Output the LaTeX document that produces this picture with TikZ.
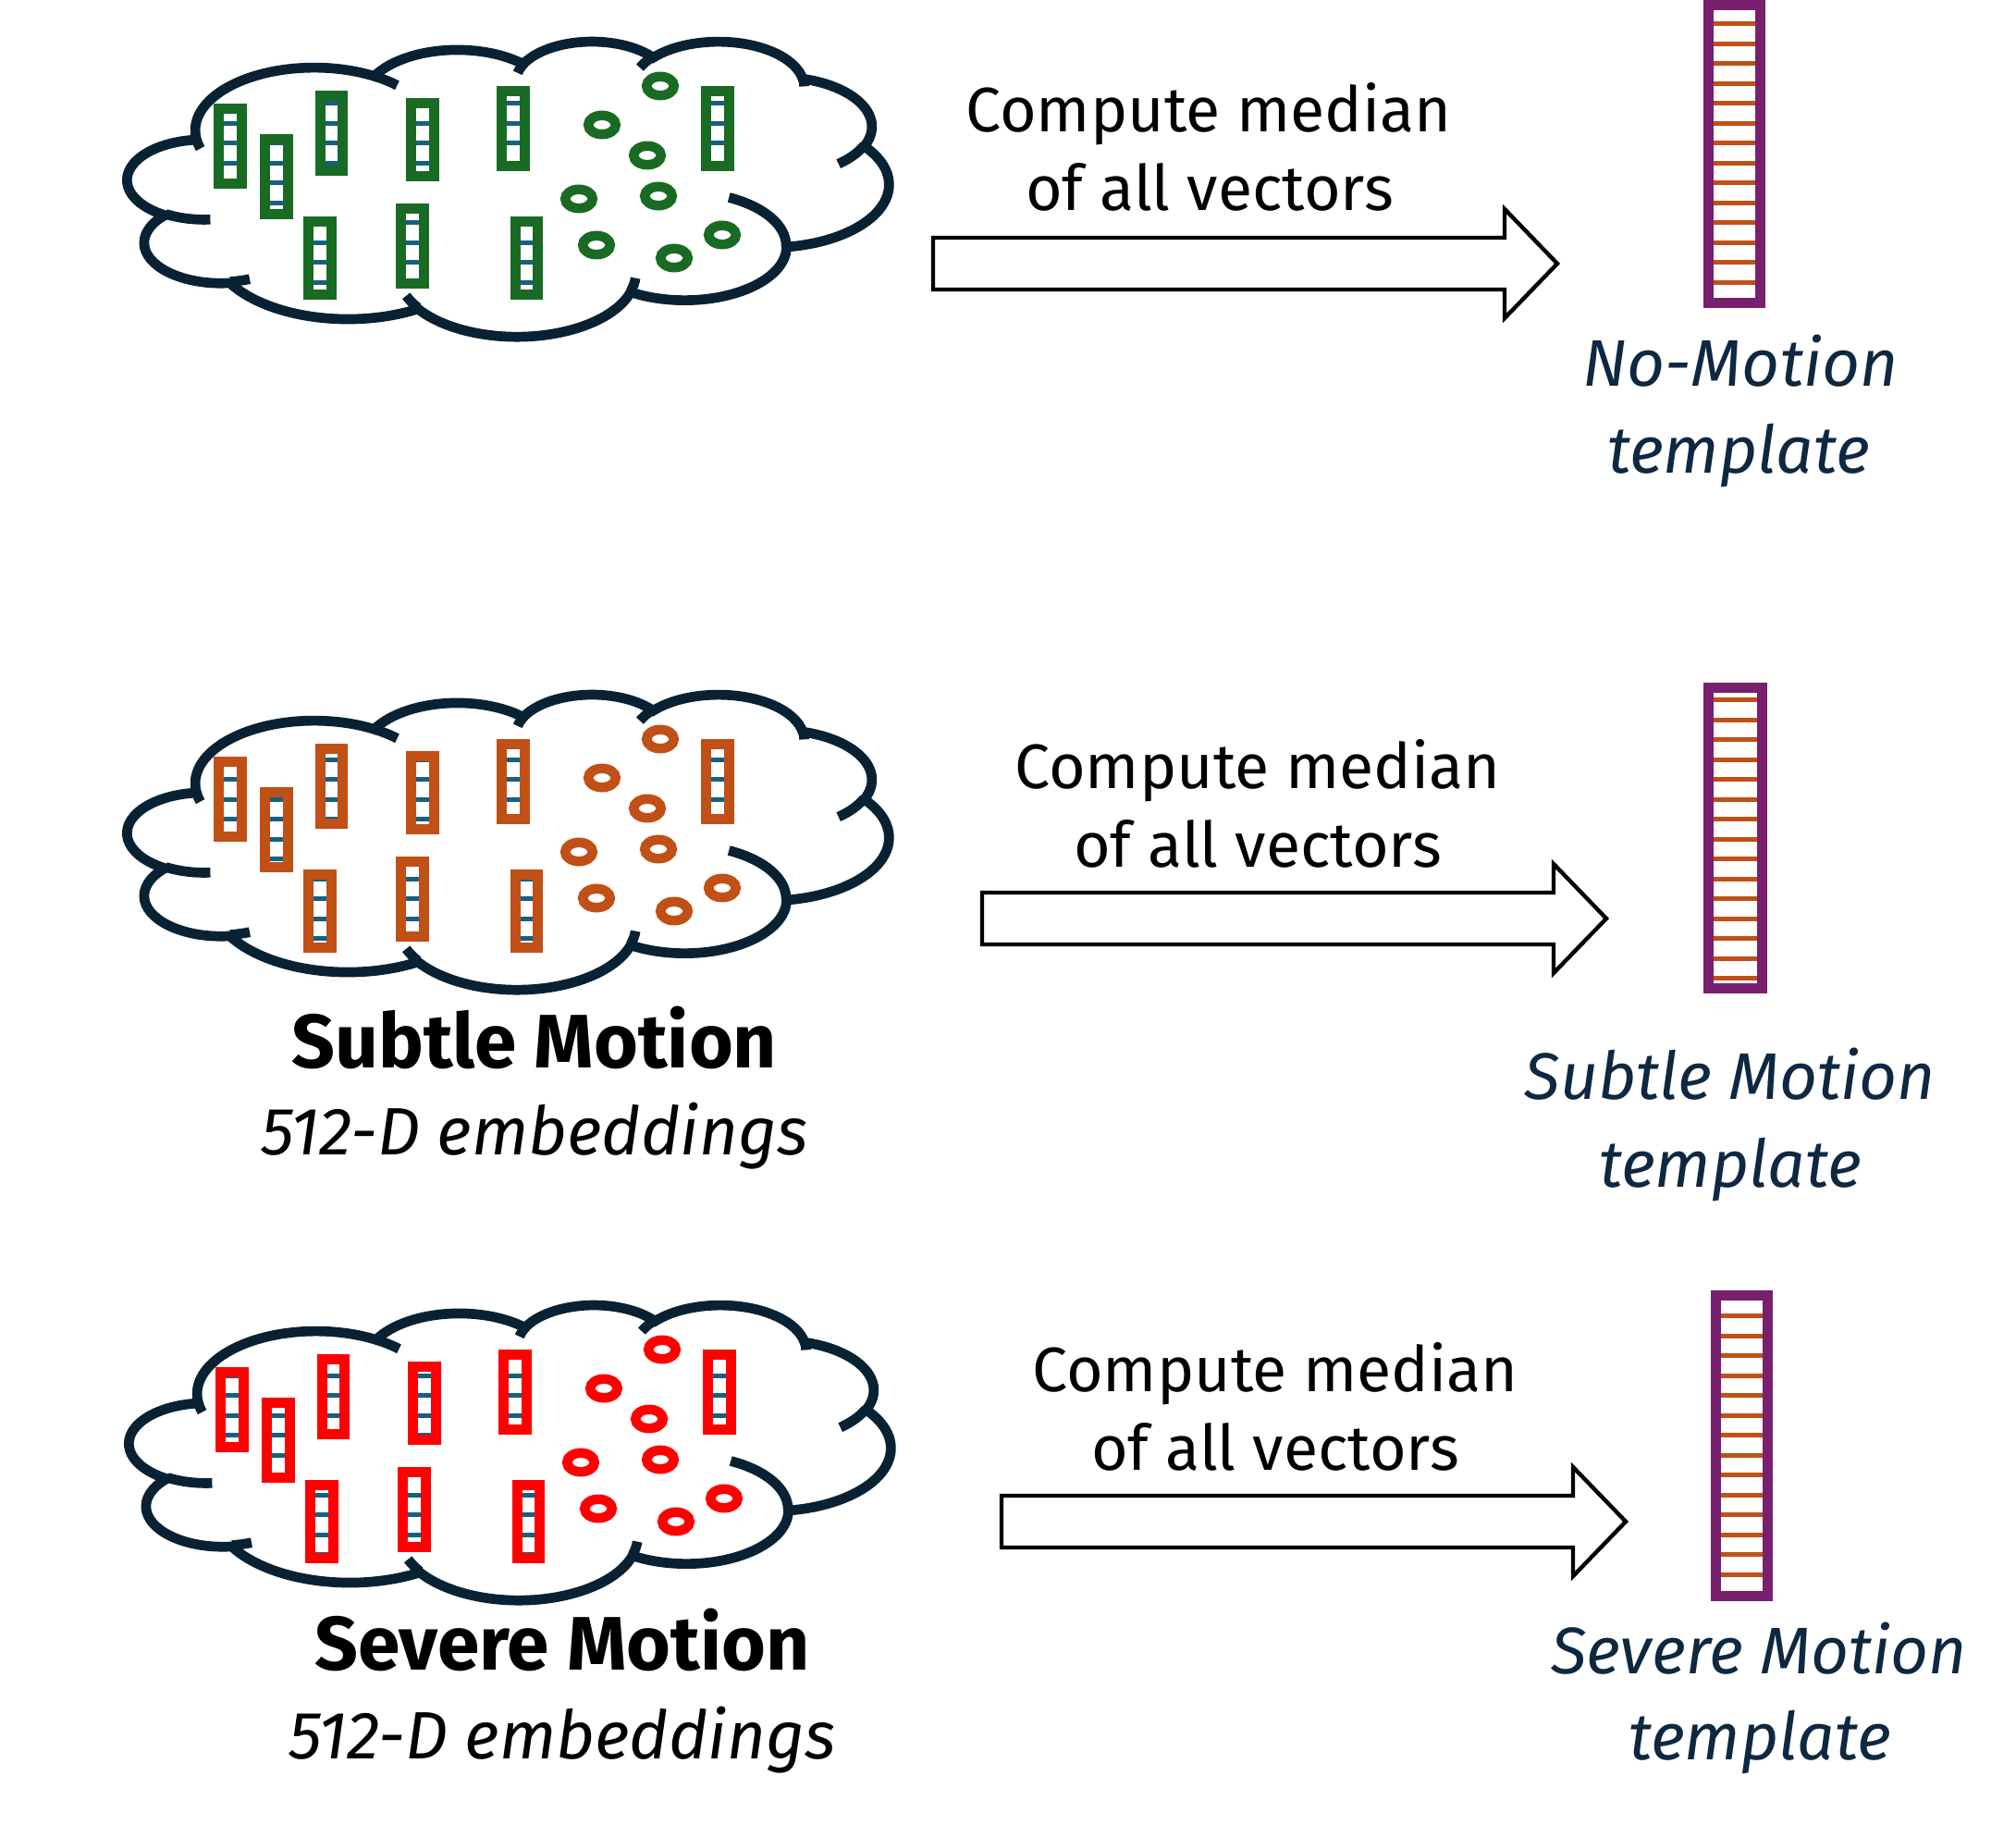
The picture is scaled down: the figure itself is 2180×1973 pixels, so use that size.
\documentclass[tikz,border=0pt]{standalone}
\usepackage{fontspec}
\setmainfont{Fira Sans}
\definecolor{cloudnavy}{RGB}{8,34,52}
\definecolor{vgreen}{RGB}{25,107,36}
\definecolor{vorange}{RGB}{192,80,21}
\definecolor{vred}{RGB}{255,0,0}
\definecolor{vblue}{RGB}{21,96,130}
\definecolor{tpurple}{RGB}{120,32,110}
\definecolor{tnavy}{RGB}{14,40,65}

% DrawingML arcTo (visual angles) -> TikZ parametric angles
\newcommand\calcooarc[4]{%
  \pgfmathsetmacro\oaS{atan2((#1)*sin(#3),(#2)*cos(#3))}%
  \pgfmathsetmacro\oaE{atan2((#1)*sin((#3)+(#4)),(#2)*cos((#3)+(#4)))}%
  \pgfmathsetmacro\oaD{mod(\oaE-\oaS+720,360)}%
  \global\let\oaS\oaS\global\let\oaD\oaD}
\newcommand\cloudarc[4]{\pgfextra{\calcooarc{#1}{#2}{#3}{#4}} arc[start angle=\oaS, delta angle=\oaD, x radius=#1, y radius=#2]}

\newcommand\cloudshape[2]{%
\begin{scope}[shift={(138+#1,44+#2)}, xscale=823/432, yscale=319/432]
\draw[cloudline, fill=white] (39.00,143.70)
  \cloudarc{67.53}{91.90}{-190.4875}{123.7805}
  \cloudarc{53.33}{72.67}{-144.1024}{89.9452}
  \cloudarc{43.65}{59.45}{-145.8079}{99.7230}
  \cloudarc{48.57}{65.95}{-130.9861}{117.2417}
  \cloudarc{53.33}{72.73}{-78.7089}{109.0269}
  \cloudarc{67.75}{92.20}{-46.2673}{130.2690}
  \cloudarc{57.85}{78.67}{0.6250}{114.0333}
  \cloudarc{67.52}{92.15}{22.4516}{115.1726}
  \cloudarc{77.20}{105.43}{66.2426}{75.7110}
  \cloudarc{43.60}{59.18}{-274.9421}{146.7356}
  \cloudarc{43.45}{59.45}{-246.8285}{152.5189}
  -- cycle;
\draw[cloudline]
  (46.93,261.77) \cloudarc{43.45}{59.45}{86.7420}{26.4295}
  (69.28,348.99) \cloudarc{43.60}{59.18}{73.6105}{11.4475}
  (164.78,390.90) \cloudarc{67.52}{92.15}{137.6242}{14.0811}
  (288.27,347.51) \cloudarc{67.52}{92.15}{6.4533}{15.9984}
  (341.29,229.54) \cloudarc{57.85}{78.67}{-70.2924}{70.9174}
  (417.98,153.54) \cloudarc{53.33}{72.73}{30.3180}{27.7515}
  (383.24,54.26) \cloudarc{48.57}{65.95}{-13.7443}{14.8589}
  (290.78,39.52) \cloudarc{48.57}{65.95}{-149.1815}{18.1954}
  (221.41,47.20) \cloudarc{43.65}{59.45}{-163.4943}{17.6864}
  (140.00,51.92) \cloudarc{67.53}{91.90}{-66.7070}{12.3194}
  (41.27,157.89) \cloudarc{67.53}{91.90}{157.6544}{11.8582};
\end{scope}}

% striped vector glyph: x0 y0 x1 y1 framecolor stripecolor
\newcommand\vg[6]{%
 \begin{scope}
  \clip (#1+10.7,#2+10.7) rectangle (#3-10.7,#4-10.7);
  \pgfmathtruncatemacro\kA{floor((#2-26)/21.49)}%
  \pgfmathtruncatemacro\kB{floor((#4-26)/21.49)+1}%
  \foreach \k in {\kA,...,\kB}
    \fill[#6] (#1,{26+21.49*\k-2.5}) rectangle (#3,{26+21.49*\k+2.5});
 \end{scope}
 \draw[line width=5.35pt,#5] (#1+5.35,#2+5.35) rectangle (#3-5.35,#4-5.35);
}

\newcommand\cloudglyphs[4]{%
 \vg{#1+231}{#2+112}{#1+267}{#2+204}{#3}{#4}
 \vg{#1+281}{#2+145}{#1+317}{#2+237}{#3}{#4}
 \vg{#1+341}{#2+98}{#1+376}{#2+190}{#3}{#4}
 \vg{#1+439}{#2+106}{#1+475}{#2+196}{#3}{#4}
 \vg{#1+537}{#2+93}{#1+573}{#2+185}{#3}{#4}
 \vg{#1+328}{#2+234}{#1+364}{#2+324}{#3}{#4}
 \vg{#1+428}{#2+220}{#1+464}{#2+312}{#3}{#4}
 \vg{#1+552}{#2+234}{#1+587}{#2+324}{#3}{#4}
 \vg{#1+758}{#2+93}{#1+794}{#2+185}{#3}{#4}
 \foreach \ex/\ey in {714/93,651/135,700/168,626/215,712/212,645/265,729/279,781/254}
   \draw[ring,#3] (#1+\ex,#2+\ey) ellipse[x radius=14.8, y radius=10.2];
}

\newcommand\blockarrow[2]{%
 \draw[blockarr] (#1,#2-28) -- ++(618,0) -- ++(0,-31) -- ++(57,59) -- ++(-57,59) -- ++(0,-31) -- ++(-618,0) -- cycle;}

\begin{document}
\begin{tikzpicture}[x=0.5pt,y=-0.5pt,
  cloudline/.style={draw=cloudnavy, line width=5.35pt},
  ring/.style={line width=5.25pt},
  blockarr/.style={draw=black, fill=white, line width=2.2pt, line join=miter},
  comp/.style={font=\fontsize{34}{40}\selectfont, anchor=base, inner sep=0pt, text=black},
  tmpl/.style={font=\fontsize{35.6}{42}\selectfont\itshape, anchor=base, inner sep=0pt, text=tnavy},
  cat/.style={font=\fontsize{41}{48}\selectfont\bfseries, anchor=base, inner sep=0pt, text=black},
  emb/.style={font=\fontsize{36.2}{42}\selectfont\itshape, anchor=base, inner sep=0pt, text=black},
]
\useasboundingbox (0,0) rectangle (2180,1973);

% clouds
\cloudshape{0}{0}
\cloudglyphs{0}{0}{vgreen}{vblue}
\cloudshape{0}{706}
\cloudglyphs{0}{706}{vorange}{vblue}
\cloudshape{2}{1366}
\cloudglyphs{2}{1366}{vred}{vblue}

% arrows
\blockarrow{1009}{285}
\blockarrow{1062}{993}
\blockarrow{1083}{1645}

% templates
\vg{1842}{0}{1909}{333}{tpurple}{vorange}
\vg{1842}{738}{1911}{1074}{tpurple}{vorange}
\vg{1850}{1395}{1917}{1731}{tpurple}{vorange}

% texts
\node[comp] (m1a) at (1307,143) {Compute median};
\node[comp] (m1b) at (1308,228) {of all vectors};
\node[comp] (m2a) at (1360,852) {Compute median};
\node[comp] (m2b) at (1360,937) {of all vectors};
\node[comp] (m3a) at (1379,1504) {Compute median};
\node[comp] (m3b) at (1379,1589) {of all vectors};
\node[tmpl] (t1a) at (1882,418) {No-Motion};
\node[tmpl] (t1b) at (1880,512) {template};
\node[tmpl] (t2a) at (1871,1188) {Subtle Motion};
\node[tmpl] (t2b) at (1871,1283) {template};
\node[tmpl] (t3a) at (1902,1809) {Severe Motion};
\node[tmpl] (t3b) at (1903,1902) {template};
\node[cat] (c2) at (578,1154) {Subtle Motion};
\node[emb] (e2) at (578,1248) {512-D embeddings};
\node[cat] (c3) at (608,1805) {Severe Motion};
\node[emb] (e3) at (608,1901) {512-D embeddings};
\end{tikzpicture}
\end{document}
